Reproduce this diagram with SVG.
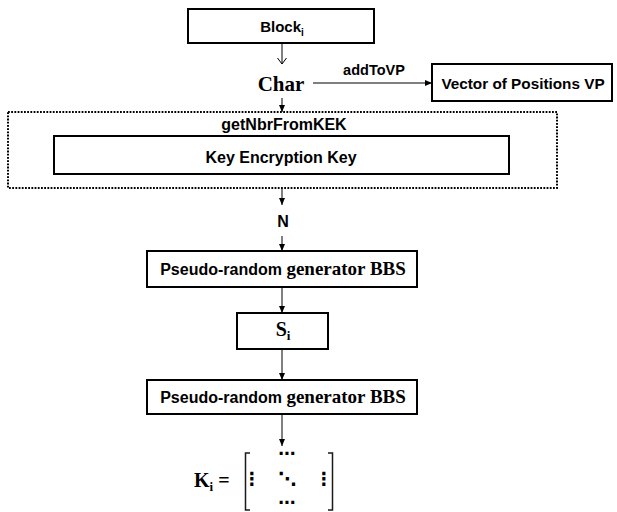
<svg xmlns="http://www.w3.org/2000/svg" width="617" height="512" viewBox="0 0 617 512">
<style>
.box{fill:#fff;stroke:#000;stroke-width:2}
.sans{font-family:"Liberation Sans",Arial,sans-serif;font-weight:bold;fill:#000}
.serif{font-family:"Liberation Serif","Times New Roman",serif;font-weight:bold;fill:#000}
.ln{stroke:#000;stroke-width:1;fill:none}
.math{font-family:"DejaVu Sans",sans-serif;font-weight:bold;fill:#000}
</style>
<defs>
<marker id="ah" markerUnits="userSpaceOnUse" markerWidth="8" markerHeight="8" refX="7" refY="3" orient="auto">
<path d="M0,0 L7,3 L0,6 z" fill="#000"/>
</marker>
<marker id="oh" markerUnits="userSpaceOnUse" markerWidth="10" markerHeight="12" refX="6.5" refY="5" orient="auto">
<path d="M0.5,0.5 L6.5,5 L0.5,9.5" fill="none" stroke="#000" stroke-width="1"/>
</marker>
</defs>

<g id="connectors">
<line class="ln" x1="282" y1="43" x2="282" y2="64" marker-end="url(#oh)"/>
<line class="ln" x1="313" y1="83" x2="432" y2="83" marker-end="url(#ah)"/>
<text class="sans" x="374" y="75" font-size="14.5" text-anchor="middle">addToVP</text>
<line class="ln" x1="282" y1="98" x2="282" y2="112" marker-end="url(#ah)"/>
<line class="ln" x1="282" y1="188" x2="282" y2="205" marker-end="url(#ah)"/>
<line class="ln" x1="282" y1="236" x2="282" y2="251" marker-end="url(#ah)"/>
<line class="ln" x1="282" y1="287" x2="282" y2="313" marker-end="url(#ah)"/>
<line class="ln" x1="282" y1="349" x2="282" y2="380" marker-end="url(#ah)"/>
<line class="ln" x1="282" y1="414" x2="282" y2="446" marker-end="url(#ah)"/>
</g>

<g id="block">
<rect class="box" x="188" y="9" width="186" height="34"/>
<text class="sans" x="282" y="32" font-size="15" text-anchor="middle">Block<tspan font-size="10" dy="4">i</tspan></text>
</g>

<g id="char">
<text class="serif" x="281" y="91" font-size="21" text-anchor="middle">Char</text>
</g>

<g id="vp">
<rect class="box" x="432" y="64" width="180" height="37"/>
<text class="sans" x="523" y="89" font-size="15.3" text-anchor="middle">Vector of Positions VP</text>
</g>

<g id="kek-group">
<rect x="8" y="112" width="549" height="76" fill="none" stroke="#000" stroke-width="2" stroke-dasharray="1.8 1.4"/>
<text class="sans" x="284" y="130" font-size="16" text-anchor="middle">getNbrFromKEK</text>
</g>

<g id="kek">
<rect class="box" x="54" y="136" width="455" height="38"/>
<text class="sans" x="281" y="163" font-size="16" text-anchor="middle">Key Encryption Key</text>
</g>

<g id="n">
<text class="sans" x="283" y="227" font-size="16" text-anchor="middle">N</text>
</g>

<g id="bbs1">
<rect class="box" x="147" y="251" width="270" height="36"/>
<text x="283" y="275" text-anchor="middle"><tspan class="sans" font-size="16">Pseudo-random </tspan><tspan class="serif" font-size="19">generator BBS</tspan></text>
</g>

<g id="si">
<rect class="box" x="237" y="313" width="91" height="36"/>
<text class="serif" x="283" y="336" font-size="20" text-anchor="middle">S<tspan font-size="13" dy="4">i</tspan></text>
</g>

<g id="bbs2">
<rect class="box" x="147" y="380" width="270" height="34"/>
<text x="283" y="403" text-anchor="middle"><tspan class="sans" font-size="16">Pseudo-random </tspan><tspan class="serif" font-size="19">generator BBS</tspan></text>
</g>

<g id="ki">
<text class="serif" x="194" y="487" font-size="20">K<tspan font-size="13" dy="4">i</tspan><tspan dy="-4"> =</tspan></text>
<path d="M250,453 H245.5 V510 H250" fill="none" stroke="#1a1a1a" stroke-width="1.5"/>
<path d="M328,453 H332.5 V510 H328" fill="none" stroke="#1a1a1a" stroke-width="1.5"/>
<text class="math" x="287" y="459" font-size="17" text-anchor="middle">⋯</text>
<text class="math" x="252" y="485" font-size="18" text-anchor="middle">⋮</text>
<text class="math" x="287" y="485" font-size="18" text-anchor="middle">⋱</text>
<text class="math" x="324" y="485" font-size="18" text-anchor="middle">⋮</text>
<text class="math" x="287" y="508" font-size="17" text-anchor="middle">⋯</text>
</g>
</svg>
